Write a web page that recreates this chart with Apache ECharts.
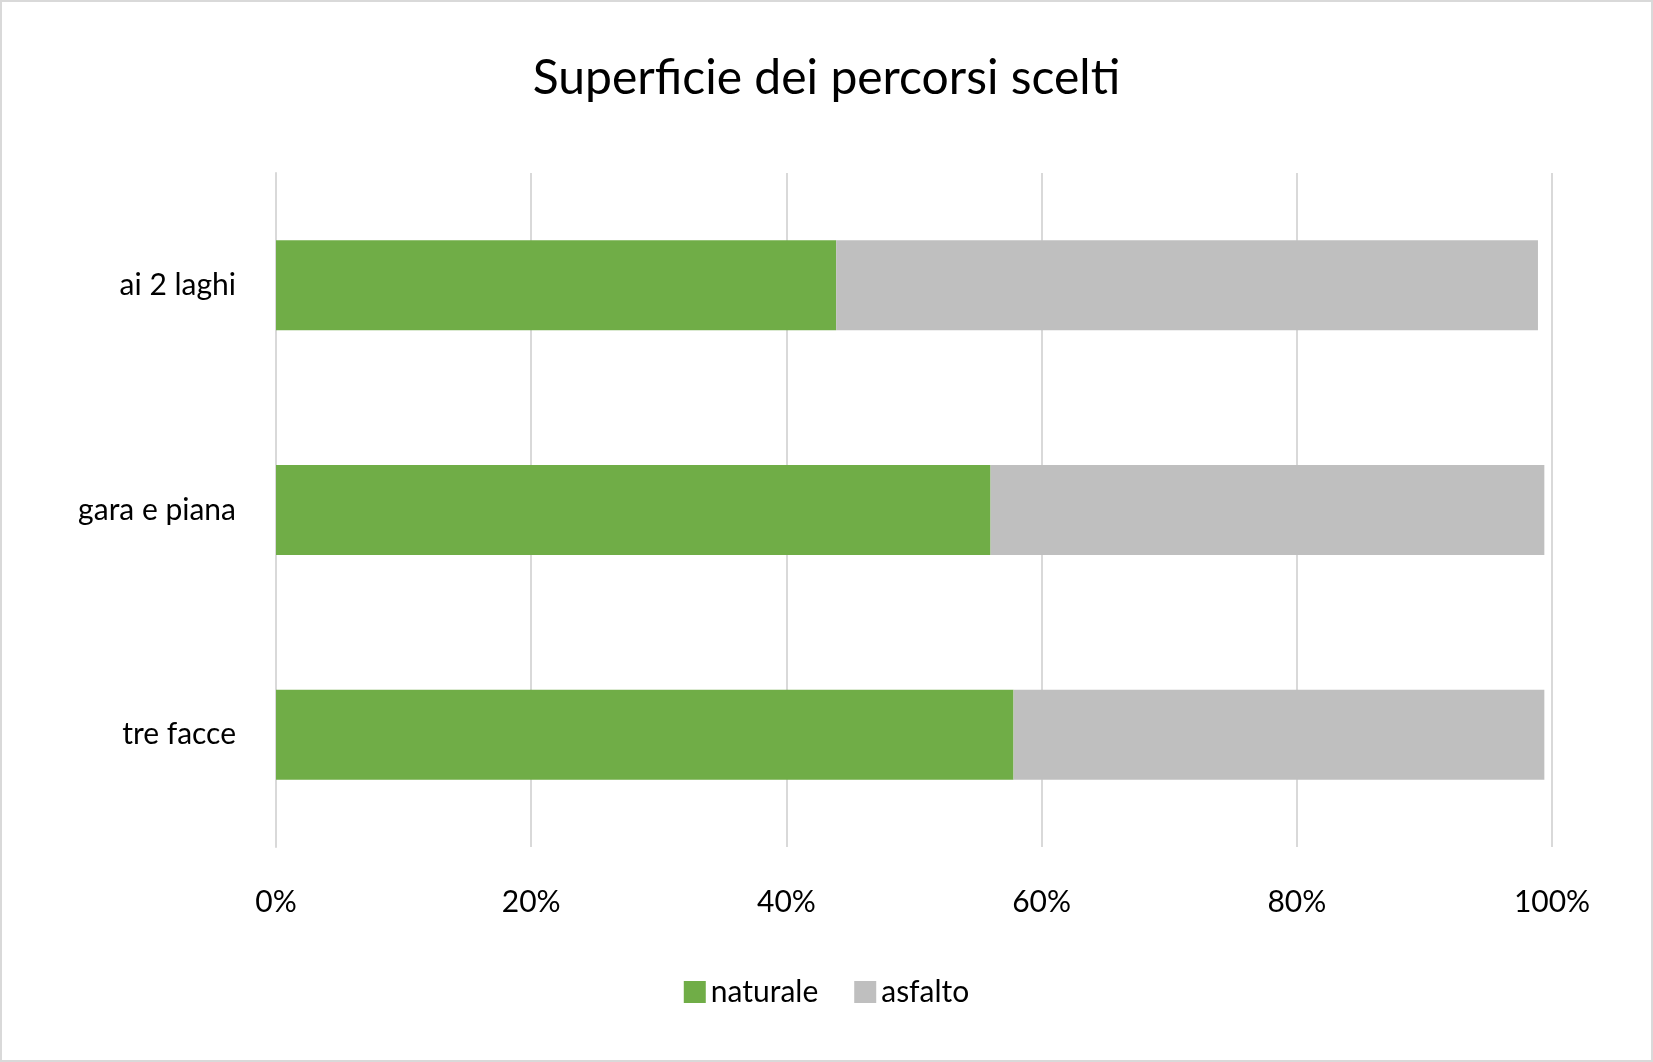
<!DOCTYPE html>
<html><head><meta charset="utf-8">
<script src="https://cdn.jsdelivr.net/npm/echarts@6/dist/echarts.min.js"></script>
<style>html,body{margin:0;padding:0;background:#fff}#c{width:1653px;height:1062px;box-sizing:border-box;border:2px solid #d9d9d9}</style>
</head><body><div id="c"></div>
<script>
const categories = ['tre facce', 'gara e piana', 'ai 2 laghi'];
const naturale = [57.8, 56.0, 43.9];
const asfalto = [41.6, 43.4, 55.0];
const xTicks = ['0%', '20%', '40%', '60%', '80%', '100%'];
const font = 'Lato, "Open Sans", sans-serif';
const chart = echarts.init(document.getElementById('c'));
chart.setOption({
  animation: false,
  title: {text: 'Superficie dei percorsi scelti', left: 'center', top: 48,
    textStyle: {fontFamily: font, fontSize: 48, fontWeight: 'normal', color: '#000'}},
  legend: {bottom: 48, itemWidth: 22, itemHeight: 22, itemGap: 36, icon: 'rect',
    textStyle: {fontFamily: font, fontSize: 30, color: '#000'}},
  grid: {left: 274, right: 99, top: 171, bottom: 213, containLabel: false},
  xAxis: {type: 'value', min: 0, max: 100, interval: 20,
    axisLabel: {formatter: v => xTicks[v / 20], fontFamily: font, fontSize: 30, color: '#000', margin: 40},
    splitLine: {lineStyle: {color: '#d9d9d9', width: 2}}, axisLine: {show: false}, axisTick: {show: false}},
  yAxis: {type: 'category', data: categories,
    axisLabel: {fontFamily: font, fontSize: 30, color: '#000', margin: 40},
    axisLine: {show: true, lineStyle: {color: '#d9d9d9', width: 2}}, axisTick: {show: false}},
  series: [
    {name: 'naturale', type: 'bar', stack: 's', data: naturale, barWidth: 90, itemStyle: {color: '#70ad47'}},
    {name: 'asfalto', type: 'bar', stack: 's', data: asfalto, barWidth: 90, itemStyle: {color: '#bfbfbf'}}
  ]
});
</script></body></html>
